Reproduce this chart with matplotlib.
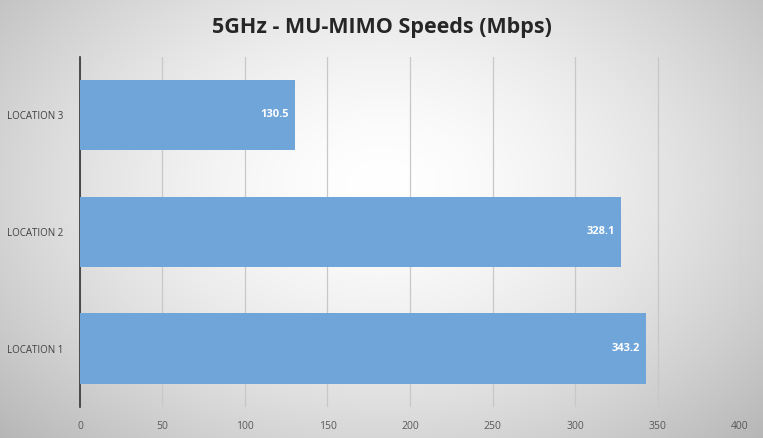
import numpy as np
import matplotlib
matplotlib.use("Agg")
import matplotlib.pyplot as plt

categories = ["LOCATION 1", "LOCATION 2", "LOCATION 3"]
values = [343.2, 328.1, 130.5]
xticks = [0, 50, 100, 150, 200, 250, 300, 350, 400]
title = "5GHz - MU-MIMO Speeds (Mbps)"

plt.rcParams['font.family'] = ['Open Sans', 'DejaVu Sans']

fig = plt.figure(figsize=(7.63, 4.38), dpi=100)

# radial gradient background
bg = fig.add_axes([0, 0, 1, 1], zorder=-10)
h, w = 438, 763
yy, xx = np.mgrid[0:h, 0:w]
r = np.sqrt(((xx - w * 0.5) / (w * 0.62)) ** 2 + ((yy - h * 0.42) / (h * 0.75)) ** 2)
v = 1.0 - 0.24 * np.clip(r, 0, 1.2) ** 1.6
img = np.dstack([v, v, v])
bg.imshow(img, aspect='auto', extent=[0, 1, 0, 1], origin='upper')
bg.axis('off')

ax = fig.add_axes([0.1048, 0.071, 0.8651, 0.80])
ax.patch.set_alpha(0)
y = np.arange(len(categories))
bars = ax.barh(y, values, height=0.6, color='#6FA5D8', zorder=3)
for yi, val in zip(y, values):
    ax.text(val - 4, yi, f"{val}", color='white', fontsize=8, fontweight='bold',
            ha='right', va='center', zorder=4)

ax.set_xlim(0, 400)
ax.set_ylim(-0.5, 2.5)
ax.set_xticks(xticks)
ax.set_yticks(y)
ax.set_yticklabels(categories)
ax.xaxis.grid(True, color='#c8c8c8', linewidth=0.9, zorder=0)
ax.tick_params(axis='x', length=0, pad=10, labelsize=7.5, labelcolor='#595959')
ax.tick_params(axis='y', length=0, pad=12, labelsize=7, labelcolor='#404040')
for s in ['top', 'right', 'bottom']:
    ax.spines[s].set_visible(False)
ax.spines['left'].set_color('#333333')
ax.spines['left'].set_linewidth(1.2)

fig.text(0.5, 0.937, title, ha='center', va='center', fontsize=15.5,
         fontweight='bold', color='#262626')

fig.savefig('out.png', dpi=100)
